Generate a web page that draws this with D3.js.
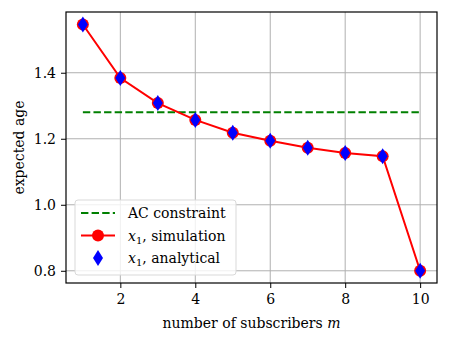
<!DOCTYPE html>
<html>
<head>
<meta charset="utf-8">
<script src="https://cdn.jsdelivr.net/npm/d3@7"></script>
<style>
  body { margin: 0; background: #fff; }
  text { font-family: "DejaVu Serif", serif; }
</style>
</head>
<body>
<svg id="chart" width="449" height="343"></svg>
<script>
const subscribers = [1, 2, 3, 4, 5, 6, 7, 8, 9, 10];
const simulation = [1.546, 1.384, 1.308, 1.257, 1.218, 1.194, 1.173, 1.157, 1.147, 0.800];
const analytical = [1.546, 1.384, 1.308, 1.257, 1.218, 1.194, 1.173, 1.157, 1.147, 0.800];
const acConstraint = 1.28;
const xTicks = [2, 4, 6, 8, 10];
const yTicks = [0.8, 1.0, 1.2, 1.4];

const margin = {left: 66, right: 12, top: 12, bottom: 60};
const width = 449, height = 343;
const fontSize = 14;

const svg = d3.select("#chart");

const x = d3.scaleLinear()
    .domain([0.55, 10.45])
    .range([margin.left, width - margin.right]);

const y = d3.scaleLinear()
    .domain([0.763, 1.584])
    .range([height - margin.bottom, margin.top]);

// grid
svg.append("g")
    .selectAll("line")
    .data(xTicks)
    .enter()
    .append("line")
    .attr("x1", d => x(d)).attr("x2", d => x(d))
    .attr("y1", margin.top).attr("y2", height - margin.bottom)
    .attr("stroke", "#b0b0b0").attr("stroke-width", 1);

svg.append("g")
    .selectAll("line")
    .data(yTicks)
    .enter()
    .append("line")
    .attr("y1", d => y(d)).attr("y2", d => y(d))
    .attr("x1", margin.left).attr("x2", width - margin.right)
    .attr("stroke", "#b0b0b0").attr("stroke-width", 1);

// AC constraint
svg.append("line")
    .attr("x1", x(1)).attr("x2", x(10))
    .attr("y1", y(acConstraint)).attr("y2", y(acConstraint))
    .attr("stroke", "green")
    .attr("stroke-width", 2)
    .attr("stroke-dasharray", "7.4 3.2");

// simulation line
const line = d3.line()
    .x((d, i) => x(subscribers[i]))
    .y(d => y(d));

svg.append("path")
    .datum(simulation)
    .attr("d", line)
    .attr("fill", "none")
    .attr("stroke", "red")
    .attr("stroke-width", 2);

svg.append("g")
    .selectAll("circle")
    .data(simulation)
    .enter()
    .append("circle")
    .attr("cx", (d, i) => x(subscribers[i]))
    .attr("cy", d => y(d))
    .attr("r", 6)
    .attr("fill", "red");

const diamond = "M0,-8L5,0L0,8L-5,0Z";

svg.append("g")
    .selectAll("path")
    .data(analytical)
    .enter()
    .append("path")
    .attr("d", diamond)
    .attr("transform", (d, i) => `translate(${x(subscribers[i])},${y(d)})`)
    .attr("fill", "blue");

// axes
const xAxis = svg.append("g")
    .attr("transform", `translate(0,${height - margin.bottom})`)
    .call(d3.axisBottom(x).tickValues(xTicks).tickFormat(d3.format("d")).tickSize(5).tickPadding(6));

const yAxis = svg.append("g")
    .attr("transform", `translate(${margin.left},0)`)
    .call(d3.axisLeft(y).tickValues(yTicks).tickFormat(d3.format(".1f")).tickSize(5).tickPadding(5));

[xAxis, yAxis].forEach(a => {
    a.select(".domain").remove();
    a.selectAll("text").attr("font-size", fontSize).attr("fill", "#000")
        .attr("font-family", "DejaVu Serif, serif");
    a.selectAll("line").attr("stroke", "#000").attr("stroke-width", 1);
});

svg.append("rect")
    .attr("x", margin.left).attr("y", margin.top)
    .attr("width", width - margin.left - margin.right)
    .attr("height", height - margin.top - margin.bottom)
    .attr("fill", "none")
    .attr("stroke", "#000")
    .attr("stroke-width", 1.2);

// labels
svg.append("text")
    .attr("x", (margin.left + width - margin.right) / 2)
    .attr("y", 328)
    .attr("text-anchor", "middle")
    .attr("font-size", fontSize)
    .html('number of subscribers <tspan font-style="italic">m</tspan>');

svg.append("text")
    .attr("transform", `translate(24,${(margin.top + height - margin.bottom) / 2}) rotate(-90)`)
    .attr("text-anchor", "middle")
    .attr("font-size", fontSize)
    .text("expected age");

// legend
const legend = svg.append("g").attr("transform", "translate(75,200)");

legend.append("rect")
    .attr("width", 161).attr("height", 75)
    .attr("rx", 3)
    .attr("fill", "#fff").attr("fill-opacity", 0.8)
    .attr("stroke", "#d9d9d9");

const rows = [
    {label: "AC constraint", type: "dash"},
    {label: ", simulation", type: "sim"},
    {label: ", analytical", type: "ana"}
];

rows.forEach((r, i) => {
    const cy = 13 + i * 22.5;
    const g = legend.append("g").attr("transform", `translate(0,${cy})`);
    if (r.type === "dash") {
        g.append("line").attr("x1", 6).attr("x2", 40)
            .attr("stroke", "green").attr("stroke-width", 2)
            .attr("stroke-dasharray", "7.4 3.2");
    } else if (r.type === "sim") {
        g.append("line").attr("x1", 6).attr("x2", 40)
            .attr("stroke", "red").attr("stroke-width", 2);
        g.append("circle").attr("cx", 23).attr("r", 6).attr("fill", "red");
    } else {
        g.append("path").attr("d", diamond)
            .attr("transform", "translate(23,0)").attr("fill", "blue");
    }
    const t = g.append("text")
        .attr("x", 53).attr("y", 5)
        .attr("font-size", fontSize);
    if (r.type === "dash") {
        t.text(r.label);
    } else {
        t.append("tspan").attr("font-style", "italic").text("x");
        t.append("tspan").attr("font-size", 10).attr("dy", 3).text("1");
        t.append("tspan").attr("dy", -3).text(r.label);
    }
});
</script>
</body>
</html>
